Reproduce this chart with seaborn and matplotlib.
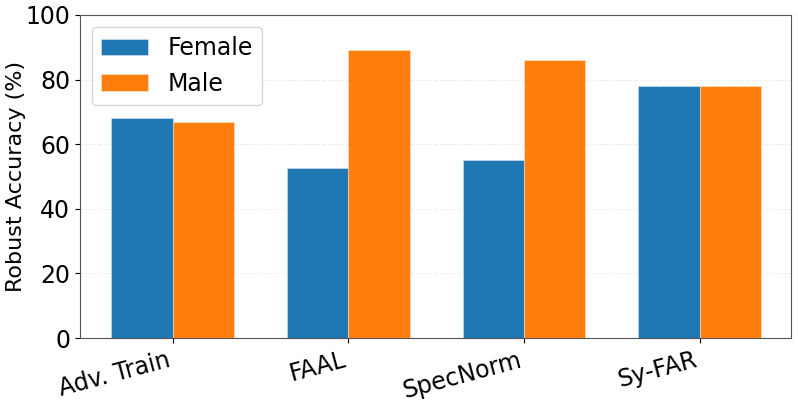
import pandas as pd
import seaborn as sns
import matplotlib
matplotlib.use("Agg")
import matplotlib.pyplot as plt

# robust accuracy per method, split by gender
methods = ["Adv. Train", "FAAL", "SpecNorm", "Sy-FAR"]
female = [68, 52.7, 55, 78]
male = [67, 89, 86, 78]
groups = ["Female", "Male"]

df = pd.DataFrame({
    "method": methods * 2,
    "group": ["Female"] * len(methods) + ["Male"] * len(methods),
    "acc": female + male,
})

fig, ax = plt.subplots(figsize=(7.98, 4.03), dpi=100)
sns.barplot(data=df, x="method", y="acc", hue="group", hue_order=groups,
            palette=["#1f77b4", "#ff7f0e"], width=0.7, gap=0,
            edgecolor=(1, 1, 1, 0.5), linewidth=0.5, saturation=1, ax=ax)

ax.set_ylim(0, 100)
ax.set_xlim(-0.53, 3.52)
ax.set_xlabel("")
ax.set_ylabel("Robust Accuracy (%)", fontsize=16)
ax.yaxis.set_label_coords(-0.075, 0.5)
ax.tick_params(axis="both", labelsize=17)
plt.setp(ax.get_xticklabels(), rotation=15, ha="right")
ax.yaxis.grid(True, linestyle="--", alpha=0.2)
ax.set_axisbelow(True)
for s in ax.spines.values():
    s.set_color("#555555")

ax.legend(loc="upper left", fontsize=17, frameon=True)

fig.subplots_adjust(left=0.100, right=0.991, top=0.963, bottom=0.161)
plt.savefig("out.png", dpi=100)
